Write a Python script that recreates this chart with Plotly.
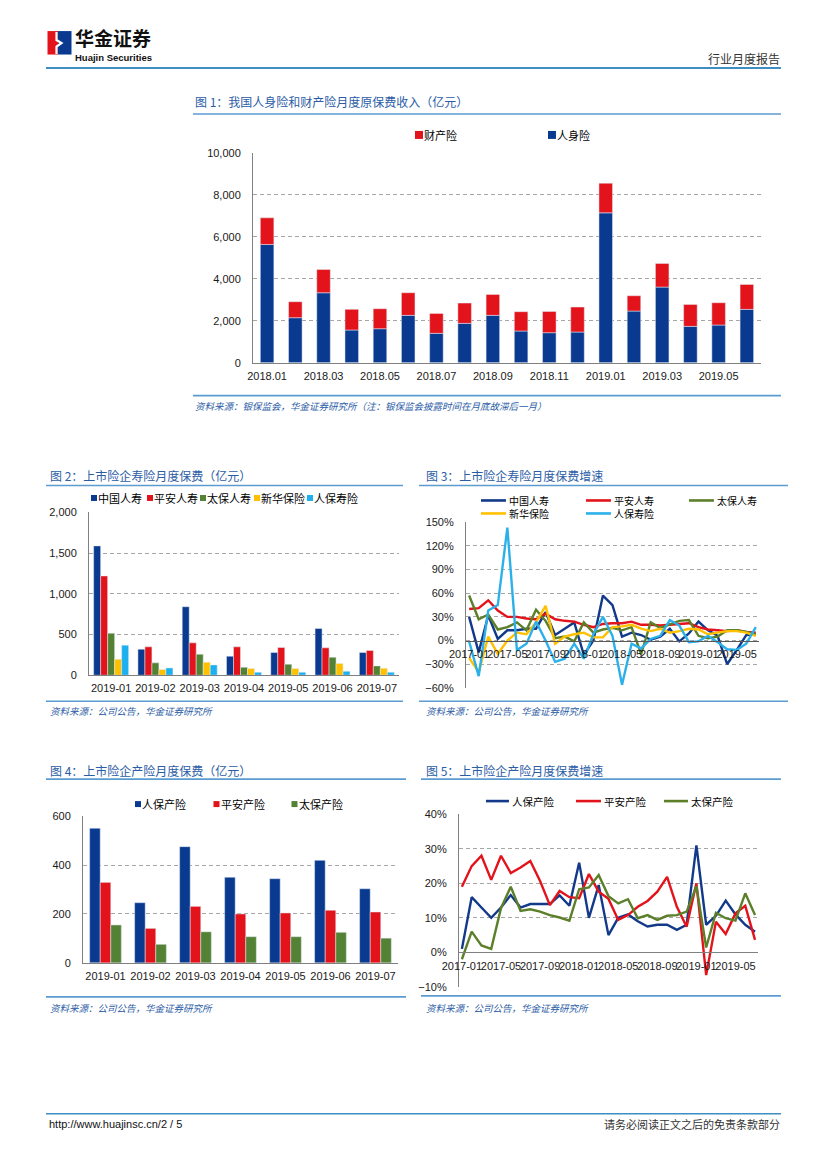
import plotly.graph_objects as go

W, H = 827, 1169

# ---------------- data ----------------
# Figure 1: monthly original premium income (100 million yuan)
months1 = ["2018.01", "2018.02", "2018.03", "2018.04", "2018.05", "2018.06",
           "2018.07", "2018.08", "2018.09", "2018.10", "2018.11", "2018.12",
           "2019.01", "2019.02", "2019.03", "2019.04", "2019.05", "2019.06"]
ticks1 = ["2018.01", "2018.03", "2018.05", "2018.07", "2018.09", "2018.11",
          "2019.01", "2019.03", "2019.05"]
life1 = [5635, 2143, 3333, 1556, 1619, 2254, 1397, 1873, 2254, 1508, 1429, 1460,
         7143, 2460, 3603, 1730, 1794, 2540]
prop1 = [1270, 762, 1111, 984, 952, 1079, 952, 968, 1000, 921, 1015, 1191,
         1413, 730, 1127, 1048, 1063, 1190]
names1 = ["财产险", "人身险"]

# Figure 2: listed insurers, life premiums
months2 = ["2019-01", "2019-02", "2019-03", "2019-04", "2019-05", "2019-06", "2019-07"]
life_names = ["中国人寿", "平安人寿", "太保人寿", "新华保险", "人保寿险"]
china_life = [1589, 320, 842, 234, 279, 575, 279]
pingan_life = [1220, 349, 398, 349, 341, 337, 304]
cpic_life = [517, 152, 259, 99, 136, 222, 115]
nci_life = [197, 70, 160, 82, 82, 144, 86]
picc_life = [370, 90, 127, 37, 37, 49, 37]

# Figure 3: life premium growth (%)
months3 = ["2017-01", "2017-02", "2017-03", "2017-04", "2017-05", "2017-06",
           "2017-07", "2017-08", "2017-09", "2017-10", "2017-11", "2017-12",
           "2018-01", "2018-02", "2018-03", "2018-04", "2018-05", "2018-06",
           "2018-07", "2018-08", "2018-09", "2018-10", "2018-11", "2018-12",
           "2019-01", "2019-02", "2019-03", "2019-04", "2019-05", "2019-06", "2019-07"]
ticks3 = ["2017-01", "2017-05", "2017-09", "2018-01", "2018-05", "2018-09",
          "2019-01", "2019-05"]
china_life_g = [30, -15, 32, 2, 13, 13, 15, 15, 36, 7, 15, 23, -18, 0, 57, 45,
                5, 10, 7, 1, 5, 15, -1, 9, 24, 13, 6, -30, -12, 7, 8]
pingan_life_g = [40, 41, 51, 38, 30, 30, 28, 27, 34, 27, 25, 24, 20, 17, 21, 22,
                 22, 24, 20, 20, 19, 20, 21, 22, 17, 14, 13, 12, 13, 11, 10]
cpic_life_g = [57, 27, 33, 14, 17, 23, 13, 39, 25, 3, 5, -1, 23, 10, 14, 16,
               13, 17, -17, 23, 16, 21, 25, 26, 6, 3, 5, 13, 13, 11, 8]
nci_life_g = [-22, -40, 5, -17, 0, 10, 8, 23, 44, -4, 5, 8, 10, 4, 4, 17,
              18, 20, 15, 12, 15, 10, 12, 15, 14, 8, 10, 12, 12, 10, 6]
picc_life_g = [-1, -45, 38, 45, 143, -12, -4, 24, 0, -27, -23, -4, -23, 8, 30, 6,
               -56, -4, -10, 2, 6, 26, 19, -2, -1, 6, -2, -11, -12, -4, 17]

# Figure 4: listed insurers, P&C premiums
pc_names = ["人保产险", "平安产险", "太保产险"]
picc_pc = [550, 246, 475, 350, 344, 419, 303]
pingan_pc = [329, 141, 231, 200, 204, 215, 208]
cpic_pc = [155, 76, 127, 107, 107, 125, 101]

# Figure 5: P&C premium growth (%)
picc_pc_g = [1, 16, 13, 10, 13, 16.6, 13, 14, 14, 14, 16.5, 13.5, 26, 10, 19.5, 5,
             10, 11, 9, 7.5, 8, 8, 6.5, 8, 31, 8, 10.6, 15, 11, 8, 6]
pingan_pc_g = [19, 25, 28, 21, 28, 23, 24.6, 26.5, 20.7, 13.7, 17.8, 16, 15.7, 22.7,
               17.6, 15.5, 9.4, 10.8, 13.2, 14.9, 17.6, 21.9, 13.2, 7.4, 20, -6.6,
               8.9, 5.3, 11.3, 13.5, 3.6]
cpic_pc_g = [-2, 6, 2, 1, 12.8, 19, 12, 12.5, 11.8, 10.8, 10.1, 9.2, 18.3, 18.8,
             22.4, 16.3, 14.2, 15.4, 9.9, 10.8, 9.4, 10.6, 10.8, 11.8, 19.2, 1.4,
             11.5, 9.9, 9.2, 17.1, 10.8]

# ---------------- styles ----------------
NUM_FONT = "Arial, Liberation Sans, sans-serif"
CJK = "Noto Sans CJK SC, sans-serif"
TITLE_C = "#2B5CA6"
RULE_C = "#5B9BD0"
GRID_C = "#A6A6A6"
AXIS_C = "#808080"
TICK_C = "#1A1A1A"

BAR_BLUE = "#0A3A8F"
BAR_RED = "#E3131B"
BAR_GREEN = "#548235"
BAR_YELLOW = "#FFC000"
BAR_CYAN = "#1EB0EE"
LINE_COLORS = ["#12398A", "#E3131B", "#5C7F2A", "#FFC000", "#2BB0EA"]
PC_COLORS = ["#0A3A8F", "#E3131B", "#548235"]

# calibration of page positions
SX, OX = 0.9795, 16.0
SY, OY = 0.991, 4.9


def X(x):
    return (x - OX) / SX


def Y(y):
    return (y - OY) / SY


def px(x):
    return X(x) / W


def py(y):
    return 1 - Y(y) / H


def xdom(a, b):
    return [px(a), px(b)]


def ydom(top, bottom):
    return [py(bottom), py(top)]


fig = go.Figure()

# ---- Figure 1 traces ----
fig.add_trace(go.Bar(x=months1, y=life1, name=names1[1], marker_color=BAR_BLUE,
                     width=0.48, xaxis="x", yaxis="y", showlegend=False))
fig.add_trace(go.Bar(x=months1, y=prop1, base=life1, name=names1[0], marker_color=BAR_RED,
                     width=0.48, xaxis="x", yaxis="y", showlegend=False))

# ---- Figure 2 traces ----
life_series = [china_life, pingan_life, cpic_life, nci_life, picc_life]
life_colors = [BAR_BLUE, BAR_RED, BAR_GREEN, BAR_YELLOW, BAR_CYAN]
for i, (nm, vals) in enumerate(zip(life_names, life_series)):
    fig.add_trace(go.Bar(x=months2, y=vals, name=nm, marker_color=life_colors[i],
                         width=0.158, offset=-0.395 + 0.158 * i,
                         xaxis="x2", yaxis="y2", showlegend=False))

# ---- Figure 3 traces ----
life_g = [china_life_g, pingan_life_g, cpic_life_g, nci_life_g, picc_life_g]
for i, (nm, vals) in enumerate(zip(life_names, life_g)):
    fig.add_trace(go.Scatter(x=months3, y=vals, name=nm, mode="lines",
                             line=dict(color=LINE_COLORS[i], width=2.4),
                             xaxis="x3", yaxis="y3", showlegend=False))

# ---- Figure 4 traces ----
pc_series = [picc_pc, pingan_pc, cpic_pc]
for i, (nm, vals) in enumerate(zip(pc_names, pc_series)):
    fig.add_trace(go.Bar(x=months2, y=vals, name=nm, marker_color=PC_COLORS[i],
                         width=0.235, offset=-0.3525 + 0.235 * i,
                         xaxis="x4", yaxis="y4", showlegend=False))

# ---- Figure 5 traces ----
pc_g = [picc_pc_g, pingan_pc_g, cpic_pc_g]
for i, (nm, vals) in enumerate(zip(pc_names, pc_g)):
    fig.add_trace(go.Scatter(x=months3, y=vals, name=nm, mode="lines",
                             line=dict(color=LINE_COLORS[i], width=2.4),
                             xaxis="x5", yaxis="y5", showlegend=False))

# ---------------- axes ----------------
tickfont = dict(family=NUM_FONT, size=11, color=TICK_C)


def yaxis_style(rng, dtick, domain, anchor, fmt="", suffix=""):
    return dict(domain=domain, anchor=anchor, range=rng, dtick=dtick,
                tickformat=fmt, ticksuffix=suffix, showgrid=True,
                gridcolor=GRID_C, gridwidth=1, griddash="4px,3px",
                showline=True, linecolor=AXIS_C, linewidth=1, ticks="",
                zeroline=False, tickfont=tickfont, ticklabelstandoff=9,
                fixedrange=True)


def xaxis_cat(domain, anchor, cats, tickvals, rng=None, position=None):
    d = dict(domain=domain, type="category", categoryorder="array", categoryarray=cats,
             tickmode="array", tickvals=tickvals, ticktext=tickvals,
             showgrid=False, showline=True, linecolor=AXIS_C, linewidth=1,
             ticks="", tickangle=0, tickfont=tickfont, ticklabeloverflow="allow",
             ticklabelstandoff=3, zeroline=False, fixedrange=True)
    if rng is not None:
        d["range"] = rng
    if position is not None:
        d["anchor"] = "free"
        d["position"] = position
    else:
        d["anchor"] = anchor
    return d


# zero-line positions for line charts
y3_top, y3_bot = 521.7, 687.7
zero3 = y3_top + (150 - 0) / 210 * (y3_bot - y3_top)
y5_top, y5_bot = 814.3, 987.0
zero5 = y5_top + (40 - 0) / 50 * (y5_bot - y5_top)

layout = dict(
    width=W, height=H, margin=dict(l=0, r=0, t=0, b=0),
    paper_bgcolor="white", plot_bgcolor="white",
    barmode="overlay", showlegend=False,
    font=dict(family=NUM_FONT, size=11, color=TICK_C),
    xaxis=xaxis_cat(xdom(252, 760), "y", months1, ticks1, rng=[-0.5, 17.5]),
    yaxis=yaxis_style([0, 10000], 2000, ydom(152, 362), "x", fmt=","),
    xaxis2=xaxis_cat(xdom(88, 398), "y2", months2, months2, rng=[-0.5, 6.5]),
    yaxis2=yaxis_style([0, 2000], 500, ydom(512, 675), "x2", fmt=","),
    xaxis3=xaxis_cat(xdom(465, 758), "y3", months3, ticks3, rng=[-0.33, 30.33],
                     position=py(zero3)),
    yaxis3=yaxis_style([-60, 150], 30, ydom(y3_top, y3_bot), "x3", suffix="%"),
    xaxis4=xaxis_cat(xdom(82, 397), "y4", months2, months2, rng=[-0.5, 6.5]),
    yaxis4=yaxis_style([0, 600], 200, ydom(816, 963), "x4"),
    xaxis5=xaxis_cat(xdom(458, 757), "y5", months3, ticks3, rng=[-0.3, 30.3],
                     position=py(zero5)),
    yaxis5=yaxis_style([-10, 40], 10, ydom(y5_top, y5_bot), "x5", suffix="%"),
)
layout["xaxis3"]["linecolor"] = "#595959"
layout["xaxis5"]["linecolor"] = "#808080"
fig.update_layout(**layout)

shapes = []
annotations = []


def hline(x0, x1, y, color=RULE_C, width=1.6):
    shapes.append(dict(type="line", xref="paper", yref="paper",
                       x0=px(x0), x1=px(x1), y0=py(y), y1=py(y),
                       line=dict(color=color, width=width)))


def text(x, y, s, size=11, color="#000000", family=CJK, xanchor="left"):
    annotations.append(dict(xref="paper", yref="paper", x=px(x), y=py(y),
                            text=s, showarrow=False, xanchor=xanchor,
                            yanchor="middle", borderpad=0,
                            font=dict(family=family, size=size, color=color)))


def sq_legend(x, y, color, label, size=11, box=7):
    shapes.append(dict(type="rect", xref="paper", yref="paper",
                       x0=px(x - box / 2), x1=px(x + box / 2),
                       y0=py(y + box / 2), y1=py(y - box / 2),
                       fillcolor=color, line=dict(width=0)))
    text(x + box / 2 + 0.5, y, label, size=size)


def line_legend(x0, x1, y, color, label, size=10):
    shapes.append(dict(type="line", xref="paper", yref="paper",
                       x0=px(x0), x1=px(x1), y0=py(y), y1=py(y),
                       line=dict(color=color, width=2.6)))
    text(x1 + 2, y, label, size=size)


# ---------------- header ----------------
shapes.append(dict(type="rect", xref="paper", yref="paper",
                   x0=px(46.5), x1=px(57), y0=py(53.5), y1=py(30),
                   fillcolor="#E3131B", line=dict(width=0)))
shapes.append(dict(type="rect", xref="paper", yref="paper",
                   x0=px(57), x1=px(70.5), y0=py(53.5), y1=py(30),
                   fillcolor="#0A3A8F", line=dict(width=0)))
shapes.append(dict(type="path", xref="paper", yref="paper",
                   path=("M {a},{b} L {c},{d} L {e},{f} L {g},{h} L {i},{j}".format(
                       a=px(55.5), b=py(31), c=px(55.5), d=py(39),
                       e=px(60.5), f=py(42), g=px(55.5), h=py(45.5),
                       i=px(55.5), j=py(53))),
                   line=dict(color="white", width=2.2)))
text(73, 36, "<b>华金证券</b>", size=19, color="#111111")
text(73, 56, "<b>Huajin Securities</b>", size=9.5, color="#111111", family=NUM_FONT)
text(780, 57, "行业月度报告", size=12, color="#333333", xanchor="right")
hline(45, 780, 67, color="#3E8DC4", width=2)

# ---------------- Figure 1 ----------------
text(193, 101, "图 1：我国人身险和财产险月度原保费收入（亿元）", size=12, color=TITLE_C)
hline(192, 780, 113)
sq_legend(418, 134, BAR_RED, names1[0], size=11, box=8)
sq_legend(551, 134, BAR_BLUE, names1[1], size=11, box=8)
hline(192, 780, 395)
text(193, 405, "<i>资料来源：银保监会，华金证券研究所（注：银保监会披露时间在月底故滞后一月）</i>",
     size=9.5, color=TITLE_C)

# ---------------- Figure 2 ----------------
text(48, 475, "图 2：上市险企寿险月度保费（亿元）", size=12, color=TITLE_C)
hline(45, 402, 485)
leg2_x = [93, 149, 202, 256, 309]
for i in range(5):
    sq_legend(leg2_x[i], 497.5, life_colors[i], life_names[i], size=11, box=6)
hline(45, 402, 701)
text(48, 711, "<i>资料来源：公司公告，华金证券研究所</i>", size=9.5, color=TITLE_C)

# ---------------- Figure 3 ----------------
text(424, 475, "图 3：上市险企寿险月度保费增速", size=12, color=TITLE_C)
hline(418, 787, 485)
leg3 = [(480, 505, 500), (585, 610, 500), (688, 713, 500), (480, 505, 513), (585, 610, 513)]
for i, (a, b, yy) in enumerate(leg3):
    line_legend(a, b, yy, LINE_COLORS[i], life_names[i], size=10)
hline(418, 787, 701)
text(424, 711, "<i>资料来源：公司公告，华金证券研究所</i>", size=9.5, color=TITLE_C)

# ---------------- Figure 4 ----------------
text(48, 770, "图 4：上市险企产险月度保费（亿元）", size=12, color=TITLE_C)
hline(45, 405, 779)
leg4_x = [137, 215.5, 293.5]
for i in range(3):
    sq_legend(leg4_x[i], 804, PC_COLORS[i], pc_names[i], size=11, box=6)
hline(45, 405, 997)
text(48, 1008, "<i>资料来源：公司公告，华金证券研究所</i>", size=9.5, color=TITLE_C)

# ---------------- Figure 5 ----------------
text(424, 770, "图 5：上市险企产险月度保费增速", size=12, color=TITLE_C)
hline(420, 780, 779)
leg5 = [(485, 508), (575, 600), (663, 687)]
for i, (a, b) in enumerate(leg5):
    line_legend(a, b, 801, LINE_COLORS[i], pc_names[i], size=10.5)
hline(420, 780, 996)
text(424, 1008, "<i>资料来源：公司公告，华金证券研究所</i>", size=9.5, color=TITLE_C)

# ---------------- footer ----------------
hline(45, 780, 1114, color="#3E8DC4", width=1.6)
text(47, 1124, "http://www.huajinsc.cn/2 / 5", size=11, color="#111111", family=NUM_FONT)
text(780, 1124, "请务必阅读正文之后的免责条款部分", size=11, color="#333333", xanchor="right")

fig.update_layout(shapes=shapes, annotations=annotations)
fig.write_html("out.html", config={"displayModeBar": False},
               post_script="document.body.style.margin='0px';"
                           "document.body.style.overflow='hidden';")
